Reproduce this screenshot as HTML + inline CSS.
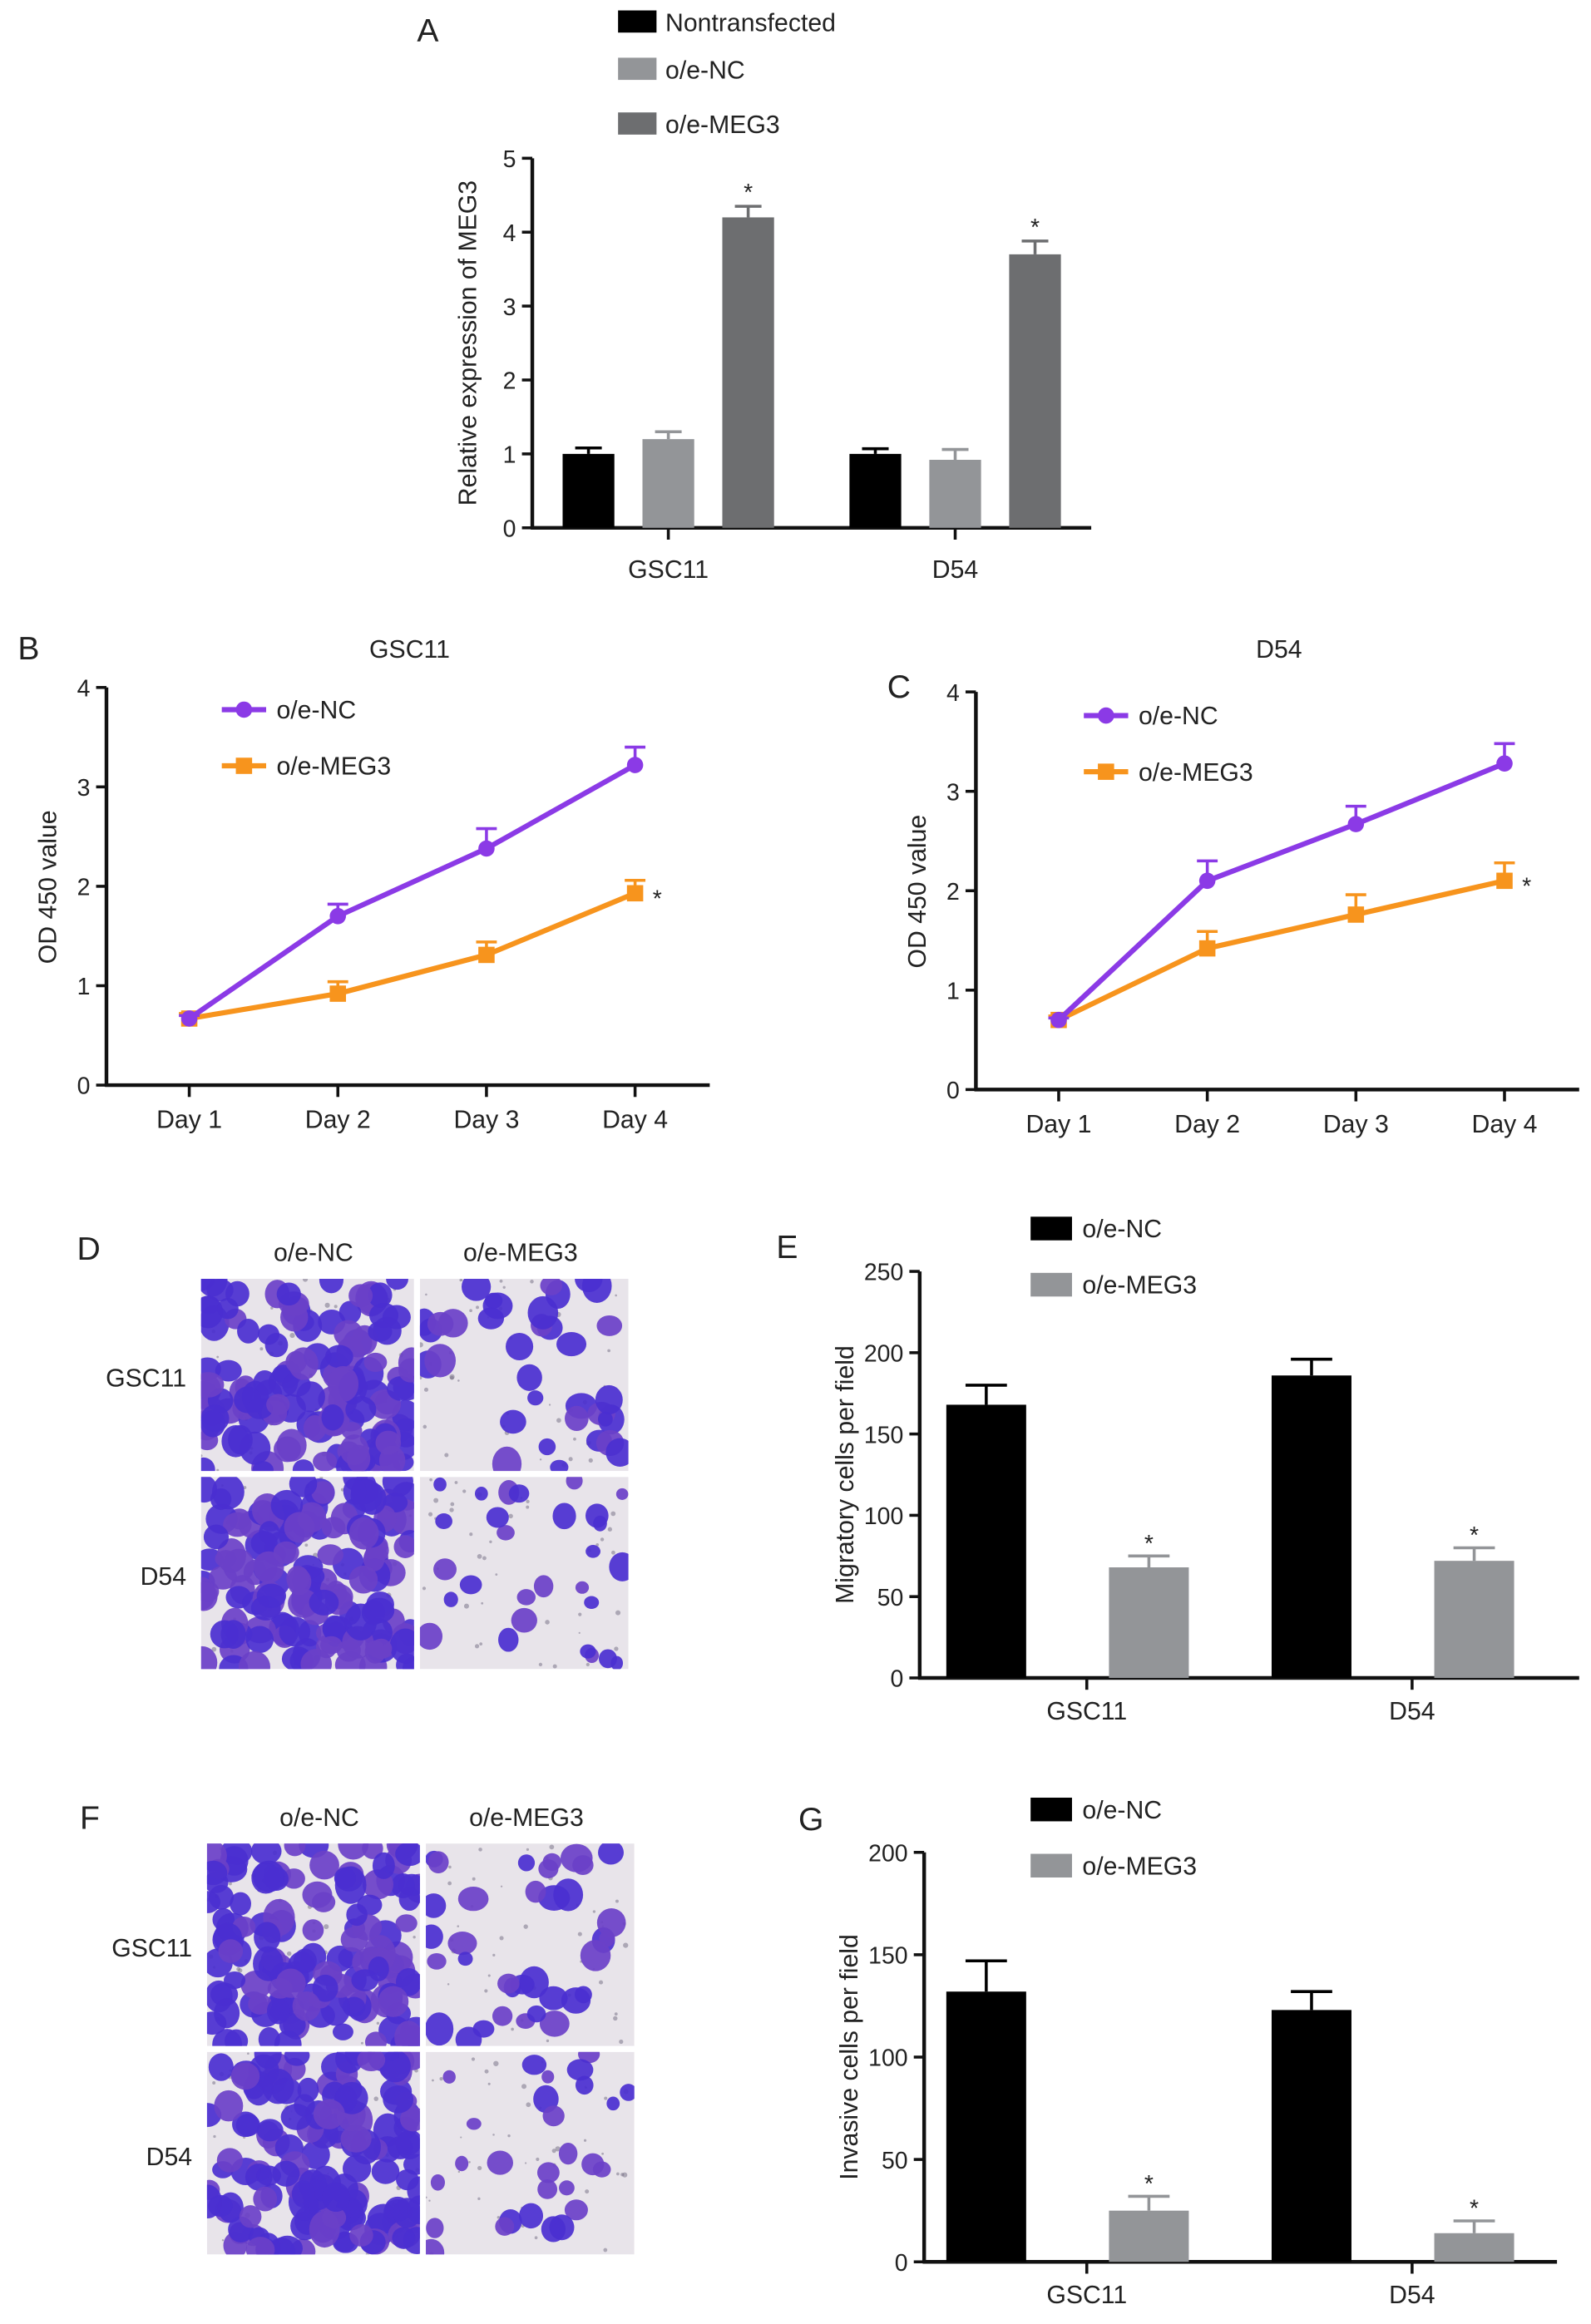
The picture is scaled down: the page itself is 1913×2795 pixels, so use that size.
<!DOCTYPE html>
<html><head><meta charset="utf-8"><style>
html,body{margin:0;padding:0;background:#fff}
svg{display:block}
text{font-family:"Liberation Sans",Arial,sans-serif;fill:#222}
</style></head><body>
<svg id="fig" width="1913" height="2795" viewBox="0 0 1076 1572" xmlns="http://www.w3.org/2000/svg"></svg>
<script>
// ---- Panel A data ----
const aGroups = ["GSC11","D54"];
const aSeries = ["Nontransfected","o/e-NC","o/e-MEG3"];
const aNon = [1.0, 1.0];
const aNonErr = [0.08, 0.07];
const aNC = [1.2, 0.92];
const aNCErr = [0.1, 0.14];
const aMEG = [4.2, 3.7];
const aMEGErr = [0.15, 0.18];
const aTicks = [0,1,2,3,4,5];
// ---- Panel B/C data ----
const days = ["Day 1","Day 2","Day 3","Day 4"];
const odTicks = [0,1,2,3,4];
const bNC = [0.67,1.7,2.38,3.22];
const bNCErr = [0.03,0.12,0.2,0.18];
const bMEG = [0.67,0.92,1.31,1.93];
const bMEGErr = [0.05,0.12,0.13,0.13];
const cNC = [0.7,2.1,2.67,3.28];
const cNCErr = [0.02,0.2,0.18,0.2];
const cMEG = [0.7,1.42,1.76,2.1];
const cMEGErr = [0.04,0.17,0.2,0.18];
// ---- Panel E data ----
const eNC = [168,186];
const eNCErr = [12,10];
const eMEG = [68,72];
const eMEGErr = [7,8];
const eTicks = [0,50,100,150,200,250];
// ---- Panel G data ----
const gNC = [132,123];
const gNCErr = [15,9];
const gMEG = [25,14];
const gMEGErr = [7,6];
const gTicks = [0,50,100,150,200];

const svg = document.getElementById('fig');
const NS = 'http://www.w3.org/2000/svg';
function el(tag, attrs, parent){
  const e = document.createElementNS(NS, tag);
  for (const k in attrs) e.setAttribute(k, attrs[k]);
  (parent||svg).appendChild(e);
  return e;
}
function txt(s, x, y, size, anchor, parent, name){
  const t = el('text', {x:x, y:y, 'font-size':size, 'text-anchor':anchor||'start'}, parent);
  t.textContent = s;
  
  
  return t;
}
function yAxis(x, y0, y1, vmax, ticks, g){
  const sc = v => y0 - (v/vmax)*(y0-y1);
  el('line',{x1:x,y1:y0+1,x2:x,y2:y1,stroke:'#111','stroke-width':2.5},g);
  ticks.forEach(t=>{
    el('line',{x1:x-7,y1:sc(t),x2:x,y2:sc(t),stroke:'#111','stroke-width':2},g);
    txt(String(t), x-11, sc(t)+6, 16, 'end', g, 'y-tick-label');
  });
  return sc;
}
function errBar(x, yTop, yErr, w, color, g){
  el('line',{x1:x,y1:yTop,x2:x,y2:yErr,stroke:color,'stroke-width':2},g);
  el('line',{x1:x-w,y1:yErr,x2:x+w,y2:yErr,stroke:color,'stroke-width':2},g);
}

// ================= Panel A =================
(function(){
  const g = el('g',{});  
  txt('A', 282, 28, 22, 'start', g, 'panel-label-a');
  const cols = ['#000','#939598','#6d6e70'];
  const legY = [15, 47, 84];
  aSeries.forEach((s,i)=>{
    const r = el('rect',{x:418,y:legY[i]-8,width:26,height:15,fill:cols[i]},g);
     
    txt(s, 450, legY[i]+6, 17, 'start', g, 'legend-entry');
  });
  const sc = yAxis(360, 357, 107, 5, aTicks, g);
  el('line',{x1:359,y1:357,x2:738,y2:357,stroke:'#111','stroke-width':2.5},g);
  const gx = [452, 646];
  const off = [-54, 0, 54];
  const bw = 35;
  const vals = [aNon,aNC,aMEG], errs=[aNonErr,aNCErr,aMEGErr];
  aGroups.forEach((grp,gi)=>{
    el('line',{x1:gx[gi],y1:357,x2:gx[gi],y2:365,stroke:'#111','stroke-width':2},g);
    txt(grp, gx[gi], 391, 17, 'middle', g, 'x-tick-label');
    vals.forEach((arr,si)=>{
      const cx = gx[gi]+off[si];
      const v = arr[gi];
      errBar(cx, sc(v), sc(v+errs[si][gi]), 9, cols[si], g);
      const r = el('rect',{x:cx-bw/2,y:sc(v),width:bw,height:357-sc(v),fill:cols[si]},g);
      
      
      if(si===2) txt('*', cx, sc(v+errs[si][gi])-4, 16, 'middle', g, 'significance-star');
    });
  });
  const t = txt('Relative expression of MEG3', 0, 0, 17, 'middle', g, 'y-axis-title');
  t.setAttribute('transform','translate(322,232) rotate(-90)');
})();

// ================= Panels B & C =================
function linePanel(cfg){
  const g = el('g',{});  
  txt(cfg.letter, cfg.lx, cfg.ly, 22, 'start', g, 'panel-label');
  txt(cfg.title, cfg.tx, 445, 17, 'middle', g, 'chart-title');
  const sc = yAxis(cfg.x0, cfg.y0, cfg.y0-269, 4, odTicks, g);
  el('line',{x1:cfg.x0-1,y1:cfg.y0,x2:cfg.x0+408,y2:cfg.y0,stroke:'#111','stroke-width':2.5},g);
  const xs = i => cfg.x0+56+i*100.5;
  days.forEach((d,i)=>{
    el('line',{x1:xs(i),y1:cfg.y0,x2:xs(i),y2:cfg.y0+8,stroke:'#111','stroke-width':2},g);
    txt(d, xs(i), cfg.y0+29, 17, 'middle', g, 'x-tick-label');
  });
  const yt = txt('OD 450 value', 0, 0, 17, 'middle', g, 'y-axis-title');
  yt.setAttribute('transform','translate('+(cfg.x0-34)+','+(cfg.y0-134)+') rotate(-90)');
  const series = [
    {v:cfg.meg, e:cfg.megErr, c:'#f7941d', m:'sq', n:'o/e-MEG3'},
    {v:cfg.nc, e:cfg.ncErr, c:'#8b3ae6', m:'ci', n:'o/e-NC'}
  ];
  series.forEach(s=>{
    s.v.forEach((v,i)=>errBar(xs(i), sc(v), sc(v+s.e[i]), 7, s.c, g));
    const pts = s.v.map((v,i)=>xs(i)+','+sc(v)).join(' ');
    const pl = el('polyline',{points:pts,fill:'none',stroke:s.c,'stroke-width':3.5},g);
    
    
    s.v.forEach((v,i)=>{
      let m;
      if(s.m==='ci') m = el('circle',{cx:xs(i),cy:sc(v),r:5.5,fill:s.c},g);
      else m = el('rect',{x:xs(i)-5.5,y:sc(v)-5.5,width:11,height:11,fill:s.c},g);
      
      
    });
  });
  const last = cfg.meg.length-1;
  txt('*', xs(last)+15, sc(cfg.meg[last])+9, 16, 'middle', g, 'significance-star');
  const L = [{n:'o/e-NC',c:'#8b3ae6',m:'ci',y:cfg.legY},{n:'o/e-MEG3',c:'#f7941d',m:'sq',y:cfg.legY+38}];
  L.forEach(l=>{
    el('line',{x1:cfg.legX,y1:l.y,x2:cfg.legX+30,y2:l.y,stroke:l.c,'stroke-width':3.5},g);
    if(l.m==='ci') el('circle',{cx:cfg.legX+15,cy:l.y,r:5.5,fill:l.c},g);
    else el('rect',{x:cfg.legX+9.5,y:l.y-5.5,width:11,height:11,fill:l.c},g);
    txt(l.n, cfg.legX+37, l.y+6, 17, 'start', g, 'legend-entry');
  });
}
linePanel({name:'panel-b-chart',letter:'B',lx:12,ly:446,title:'GSC11',tx:277,x0:72,y0:734,nc:bNC,ncErr:bNCErr,meg:bMEG,megErr:bMEGErr,legX:150,legY:480});
linePanel({name:'panel-c-chart',letter:'C',lx:600,ly:472,title:'D54',tx:865,x0:660,y0:737,nc:cNC,ncErr:cNCErr,meg:cMEG,megErr:cMEGErr,legX:733,legY:484});

// ================= Micrograph panels D & F =================
let seed = 7;
function rnd(){ seed = (seed*16807)%2147483647; return (seed-1)/2147483646; }
function micro(x,y,w,h,count,minR,maxR,name,g){
  const cid = 'clip'+name;
  const cp = el('clipPath',{id:cid},g);
  el('rect',{x:x,y:y,width:w,height:h},cp);
  const im = el('g',{'clip-path':'url(#'+cid+')'},g);
   
  el('rect',{x:x,y:y,width:w,height:h,fill:'#e8e4ea'},im);
  for(let i=0;i<40;i++){
    el('circle',{cx:x+rnd()*w,cy:y+rnd()*h,r:0.6+rnd()*1.2,fill:'#6f6a80',opacity:0.5},im);
  }
  for(let i=0;i<count;i++){
    const cx=x+rnd()*w, cy=y+rnd()*h, r=minR+rnd()*(maxR-minR);
    el('ellipse',{cx:cx,cy:cy,rx:r,ry:r*(0.8+rnd()*0.4),fill:rnd()<0.6?'#4a2fd0':'#6a40c8',opacity:0.92},im);
  }
}
function microPanel(letter,lx,ly,x0,y0,h1,h2,name){
  const g = el('g',{});  
  txt(letter, lx, ly, 22, 'start', g, 'panel-label');
  txt('o/e-NC', x0+76, y0-12, 17, 'middle', g, 'column-label');
  txt('o/e-MEG3', x0+216, y0-12, 17, 'middle', g, 'column-label');
  txt('GSC11', x0-10, y0+h1/2+8, 17, 'end', g, 'row-label');
  txt('D54', x0-10, y0+h1+4+h2/2+8, 17, 'end', g, 'row-label');
  micro(x0,y0,144,h1,130,7,11,name+'-nc-gsc11',g);
  micro(x0+148,y0,141,h1,35,5,11,name+'-meg3-gsc11',g);
  micro(x0,y0+h1+4,144,h2,140,7,11,name+'-nc-d54',g);
  micro(x0+148,y0+h1+4,141,h2,28,4,9,name+'-meg3-d54',g);
}
microPanel('D',52,852,136,865,130,130,'panel-d-images');
microPanel('F',54,1237,140,1247,137,137,'panel-f-images');

// ================= Bar panels E & G =================
function barPanel(cfg){
  const g = el('g',{});  
  txt(cfg.letter, cfg.lx, cfg.ly, 22, 'start', g, 'panel-label');
  const sc = yAxis(cfg.x0, cfg.y0, cfg.y1, cfg.vmax, cfg.ticks, g);
  el('line',{x1:cfg.x0-1,y1:cfg.y0,x2:cfg.xEnd,y2:cfg.y0,stroke:'#111','stroke-width':2.5},g);
  const yt = txt(cfg.ytitle, 0, 0, 17, 'middle', g, 'y-axis-title');
  yt.setAttribute('transform','translate('+(cfg.x0-45)+','+((cfg.y0+cfg.y1)/2)+') rotate(-90)');
  const bw = 54;
  ['GSC11','D54'].forEach((grp,gi)=>{
    const gc = cfg.gx[gi];
    el('line',{x1:gc,y1:cfg.y0,x2:gc,y2:cfg.y0+8,stroke:'#111','stroke-width':2},g);
    txt(grp, gc, cfg.y0+28, 17, 'middle', g, 'x-tick-label');
    [[cfg.nc,cfg.ncErr,'#000',-68],[cfg.meg,cfg.megErr,'#939598',42]].forEach((s,si)=>{
      const cx = gc+s[3], v=s[0][gi];
      errBar(cx, sc(v), sc(v+s[1][gi]), 14, s[2], g);
      const r = el('rect',{x:cx-bw/2,y:sc(v),width:bw,height:cfg.y0-sc(v),fill:s[2]},g);
      
      
      if(si===1) txt('*', cx, sc(v+s[1][gi])-3, 16, 'middle', g, 'significance-star');
    });
  });
  [['o/e-NC','#000',cfg.legY],['o/e-MEG3','#939598',cfg.legY+38]].forEach(l=>{
    el('rect',{x:697,y:l[2]-8,width:28,height:16,fill:l[1]},g);
    txt(l[0], 732, l[2]+6, 17, 'start', g, 'legend-entry');
  });
}
barPanel({name:'panel-e-chart',letter:'E',lx:525,ly:851,x0:622,y0:1135,y1:860,vmax:250,ticks:eTicks,xEnd:1068,gx:[735,955],nc:eNC,ncErr:eNCErr,meg:eMEG,megErr:eMEGErr,legY:831,ytitle:'Migratory cells per field'});
barPanel({name:'panel-g-chart',letter:'G',lx:540,ly:1238,x0:625,y0:1530,y1:1253,vmax:200,ticks:gTicks,xEnd:1053,gx:[735,955],nc:gNC,ncErr:gNCErr,meg:gMEG,megErr:gMEGErr,legY:1224,ytitle:'Invasive cells per field'});
</script>
</body></html>
